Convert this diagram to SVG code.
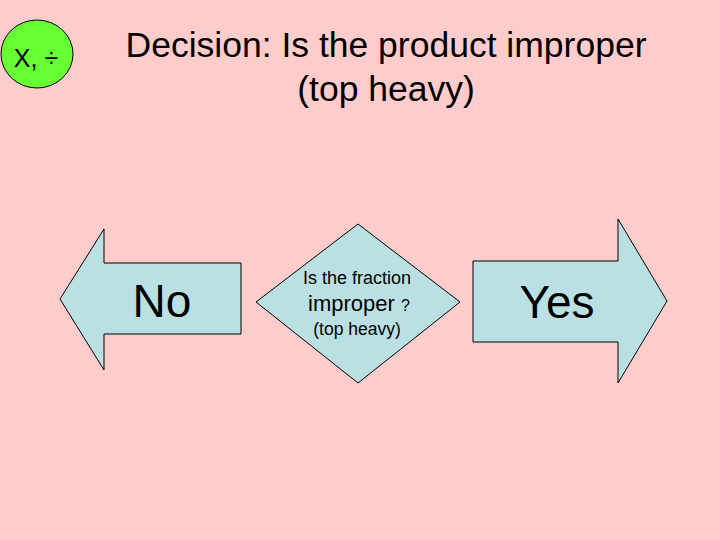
<svg xmlns="http://www.w3.org/2000/svg" width="720" height="540" viewBox="0 0 720 540">
<style>
.t{font-family:"Liberation Sans",Arial,sans-serif;fill:#000;text-anchor:middle}
.shape{fill:#BBE0E3;stroke:#000;stroke-width:1}
</style>
<rect x="0" y="0" width="720" height="540" fill="#FFCCCC"/>
<g id="badge">
<ellipse cx="37" cy="54" rx="36" ry="34" fill="#66FF33" stroke="#000" stroke-width="1"/>
<text class="t" x="36" y="67" font-size="25">X, ÷</text>
</g>
<g id="title">
<text class="t" x="386" y="57" font-size="35.5">Decision: Is the product improper</text>
<text class="t" x="386" y="101" font-size="35.5">(top heavy)</text>
</g>
<g id="no">
<polygon class="shape" points="60,299 104,229 104,263 241,263 241,334 104,334 104,370"/>
<text class="t" x="162" y="317" font-size="46">No</text>
</g>
<g id="decision">
<polygon class="shape" points="358,224 460,302 358,383 256,302"/>
<text class="t" x="357" y="284" font-size="18">Is the fraction</text>
<text class="t" x="359" y="311" font-size="22">improper <tspan font-size="16">?</tspan></text>
<text class="t" x="357" y="335" font-size="17.5">(top heavy)</text>
</g>
<g id="yes">
<polygon class="shape" points="473,261 618,261 618,219 667,301 618,383 618,342 473,342"/>
<text class="t" x="557" y="318" font-size="46">Yes</text>
</g>
<g id="connectors"/>
</svg>
